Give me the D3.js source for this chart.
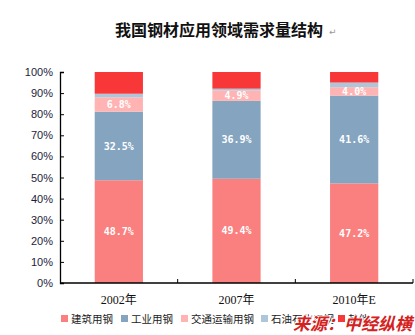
<!DOCTYPE html>
<html>
<head>
<meta charset="utf-8">
<script src="https://cdn.jsdelivr.net/npm/d3@7"></script>
<style>
  html, body { margin: 0; padding: 0; background: #fff; }
  svg { display: block; }
</style>
</head>
<body>
<svg id="chart" width="415" height="335"></svg>
<script>
// Steel demand structure by sector (share of total, %)
const categories = ["2002年", "2007年", "2010年E"];
const seriesNames = ["建筑用钢", "工业用钢", "交通运输用钢", "石油石化用钢", "其他"];
const construction = [48.7, 49.4, 47.2];
const industrial   = [32.5, 36.9, 41.6];
const transport    = [6.8, 4.9, 4.0];
const petroleum    = [1.7, 0.9, 2.2];
const other        = [10.3, 7.9, 5.0];
const yTicks = [0, 10, 20, 30, 40, 50, 60, 70, 80, 90, 100];
const colors = ["#fa8080", "#84a4bf", "#ffb3b3", "#aec6da", "#f83838"];
const labelled = [true, true, true, false, false];

(function draw() {
  const seriesValues = [construction, industrial, transport, petroleum, other];
  const rows = categories.map((c, i) => {
    const r = { cat: c };
    seriesNames.forEach((s, k) => { r[s] = seriesValues[k][i]; });
    return r;
  });
  const stacked = d3.stack().keys(seriesNames)(rows);

  const svg = d3.select("#chart");
  const mLeft = 60, mRight = 413, mTop = 72, mBottom = 283;

  const x = d3.scaleBand().domain(categories).range([mLeft, mRight]).paddingInner(0.59).paddingOuter(0.295);
  const y = d3.scaleLinear().domain([0, 100]).range([mBottom, mTop]);

  // Title
  svg.append("text")
    .attr("x", 219).attr("y", 36)
    .attr("text-anchor", "middle")
    .attr("font-family", "'Noto Sans CJK SC'")
    .attr("font-weight", 700)
    .attr("font-size", 16)
    .attr("fill", "#111")
    .text("我国钢材应用领域需求量结构");
  svg.append("text")
    .attr("x", 329).attr("y", 35)
    .attr("font-family", "'DejaVu Sans'")
    .attr("font-size", 9)
    .attr("fill", "#999")
    .text("↵");

  // Bars
  const layers = svg.append("g").selectAll("g").data(stacked).join("g")
    .attr("fill", (d, i) => colors[i]);
  layers.selectAll("rect").data(d => d).join("rect")
    .attr("x", d => x(d.data.cat))
    .attr("width", x.bandwidth())
    .attr("y", d => y(d[1]))
    .attr("height", d => y(d[0]) - y(d[1]));

  // Value labels
  stacked.forEach((layer, k) => {
    if (!labelled[k]) return;
    svg.append("g").selectAll("text").data(layer).join("text")
      .attr("x", d => x(d.data.cat) + x.bandwidth() / 2)
      .attr("y", d => y((d[0] + d[1]) / 2))
      .attr("dy", "0.36em")
      .attr("text-anchor", "middle")
      .attr("font-family", "'DejaVu Sans Mono'")
      .attr("font-weight", 700)
      .attr("font-size", 10)
      .attr("fill", "#fff")
      .text(d => (d[1] - d[0]).toFixed(1) + "%");
  });

  // Y axis
  const yAxis = svg.append("g")
    .attr("transform", `translate(${mLeft},0)`)
    .call(d3.axisLeft(y).tickValues(yTicks).tickFormat(d => d + "%").tickSize(-4).tickPadding(7));
  yAxis.select(".domain").attr("stroke", "#000").attr("stroke-width", 1.3);
  yAxis.selectAll(".tick line").attr("stroke", "#000");
  yAxis.selectAll("text")
    .attr("font-family", "'Liberation Sans'")
    .attr("font-size", 11)
    .attr("fill", "#1c1c3c");

  // X axis
  const xAxisG = svg.append("g").attr("transform", `translate(0,${mBottom})`);
  xAxisG.append("line").attr("x1", mLeft).attr("x2", mRight).attr("stroke", "#000").attr("stroke-width", 1.3);
  const bounds = categories.map(c => x(c) - x.step() * x.paddingInner() / 2).slice(1).concat([mRight]);
  xAxisG.selectAll("line.tk").data(bounds).join("line")
    .attr("class", "tk")
    .attr("x1", d => d).attr("x2", d => d)
    .attr("y1", 0).attr("y2", -4)
    .attr("stroke", "#000");
  xAxisG.selectAll("text").data(categories).join("text")
    .attr("x", d => x(d) + x.bandwidth() / 2)
    .attr("y", 21)
    .attr("text-anchor", "middle")
    .attr("font-family", "'Liberation Serif', 'Noto Sans CJK SC'")
    .attr("font-size", 12)
    .attr("fill", "#111")
    .text(d => d);

  // Legend
  const legendX = [61, 121, 181, 261, 338];
  const legend = svg.append("g").selectAll("g").data(seriesNames).join("g")
    .attr("transform", (d, i) => `translate(${legendX[i]},319)`);
  legend.append("rect")
    .attr("x", 0).attr("y", -4).attr("width", 7).attr("height", 7)
    .attr("fill", (d, i) => colors[i]);
  legend.append("text")
    .attr("x", 10).attr("y", 0).attr("dy", "0.38em")
    .attr("font-family", "'Noto Sans CJK SC'")
    .attr("font-size", 10.5)
    .attr("fill", "#222")
    .text(d => d);

  // Source note
  svg.append("text")
    .attr("x", 293).attr("y", 330)
    .attr("font-family", "'Noto Sans CJK SC'")
    .attr("font-weight", 700)
    .attr("font-style", "italic")
    .attr("font-size", 17)
    .attr("fill", "#d42222")
    .attr("stroke", "#fff")
    .attr("stroke-width", 2)
    .attr("paint-order", "stroke")
    .text("来源：中经纵横");
})();
</script>
</body>
</html>
